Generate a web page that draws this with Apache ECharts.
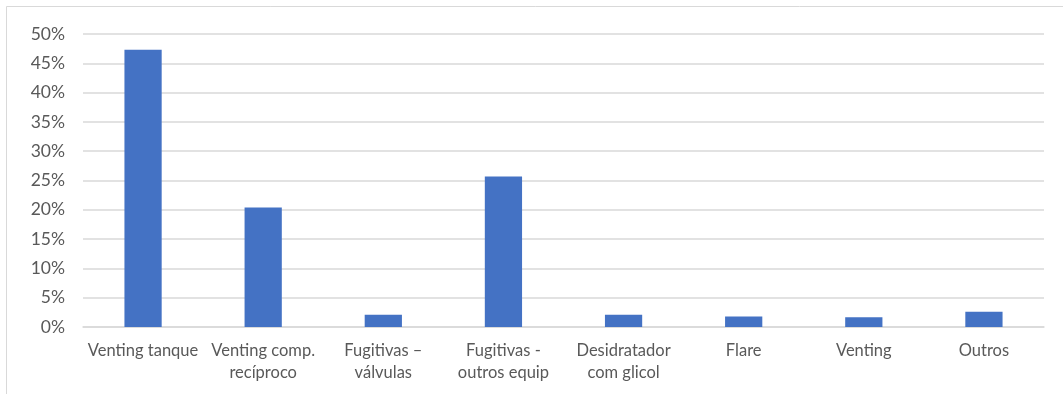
<!DOCTYPE html>
<html>
<head>
<meta charset="utf-8">
<script src="https://cdn.jsdelivr.net/npm/echarts@6/dist/echarts.min.js"></script>
<style>
  html, body { margin: 0; padding: 0; background: #fff; }
  #chart { width: 1063px; height: 394px; }
</style>
</head>
<body>
<div id="chart"></div>
<script>
// Emission sources (share of total, %)
const categories = [
  'Venting tanque',
  'Venting comp.\nrecíproco',
  'Fugitivas –\nválvulas',
  'Fugitivas -\noutros equip',
  'Desidratador\ncom glicol',
  'Flare',
  'Venting',
  'Outros'
];
const shares = [47.3, 20.4, 2.1, 25.7, 2.1, 1.8, 1.65, 2.6];

const FONT = 'Lato, "Liberation Sans", sans-serif';
const TEXT = '#595959';

const chart = echarts.init(document.getElementById('chart'), null, { renderer: 'canvas' });
chart.setOption({
  animation: false,
  backgroundColor: '#ffffff',
  graphic: [{
    type: 'rect',
    shape: { x: 6.5, y: 6.5, width: 1200, height: 600 },
    style: { fill: 'none', stroke: '#d9d9d9', lineWidth: 1 },
    silent: true
  }],
  grid: { left: 83, right: 19, top: 34, bottom: 67 },
  xAxis: {
    type: 'category',
    data: categories,
    axisLine: { show: true, lineStyle: { color: '#d9d9d9', width: 1.5 } },
    axisTick: { show: false },
    axisLabel: {
      interval: 0,
      color: TEXT,
      fontFamily: FONT,
      fontSize: 16.5,
      lineHeight: 22,
      margin: 13
    }
  },
  yAxis: {
    type: 'value',
    min: 0,
    max: 50,
    interval: 5,
    axisLine: { show: false },
    axisTick: { show: false },
    splitLine: { lineStyle: { color: '#d9d9d9', width: 1.5 } },
    axisLabel: {
      formatter: '{value}%',
      color: TEXT,
      fontFamily: FONT,
      fontSize: 17.5,
      margin: 18
    }
  },
  series: [{
    type: 'bar',
    data: shares,
    barWidth: '31%',
    itemStyle: { color: '#4472c4' }
  }]
});
</script>
</body>
</html>
